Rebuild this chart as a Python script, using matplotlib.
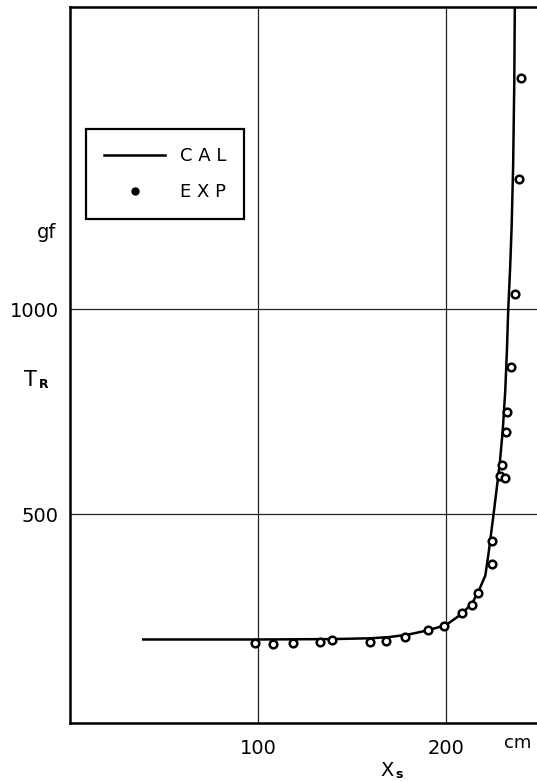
import numpy as np
import matplotlib
matplotlib.use("Agg")
import matplotlib.pyplot as plt
from matplotlib.lines import Line2D

# calculated curve (CAL)
cal_x = [39, 100, 140, 160, 170, 180, 190, 200, 208, 214, 218, 221, 222.6,
         224, 225.4, 227, 228.6, 230.2, 231.6, 232.5, 233.2, 234.2, 235,
         235.8, 236.4, 236.7]
cal_t = [194, 194, 195, 197, 200, 206, 216, 229, 255, 282, 318, 350, 400,
         450, 500, 560, 620, 700, 800, 900, 1000, 1100, 1200,
         1350, 1550, 1740]

# measured points (EXP)
exp_x = [98.6, 107.8, 118.5, 133.2, 139.4, 159.4, 168, 178.4, 190.4, 198.8,
         208.5, 213.8, 217.1, 224.8, 224.5, 228.9, 231.3, 229.8, 232.2, 232.5,
         234.6, 236.9, 239.0, 239.9]
exp_t = [185, 183, 185, 188, 192, 189, 191, 199, 216, 227,
         258, 277, 307, 377, 434, 593, 589, 620, 699, 749,
         859, 1038, 1318, 1565]

x_ticks = [100, 200]
y_ticks = [500, 1000]

fig = plt.figure(figsize=(5.37, 7.81), dpi=100)
ax = fig.add_axes([70 / 537, 58.3 / 781, 1 - 70 / 537, 715.7 / 781])

ax.plot(cal_x, cal_t, color="black", lw=1.8, zorder=3)
ax.plot(exp_x, exp_t, ls="none", marker="o", ms=5.5, mfc="white",
        mec="black", mew=1.8, zorder=4)

ax.set_xlim(0, 248.5)
ax.set_ylim(-9, 1737)
ax.set_xticks(x_ticks)
ax.set_yticks(y_ticks)
ax.tick_params(length=0, labelsize=14, colors="black")
ax.tick_params(axis="x", pad=12)
ax.tick_params(axis="y", pad=8)
ax.grid(True, color="#222222", lw=0.9)
ax.set_axisbelow(True)

for side in ["left", "bottom", "top"]:
    ax.spines[side].set_linewidth(1.8)
ax.spines["right"].set_visible(False)

# unit and axis labels
fig.text(518 / 537, 1 - 743 / 781, "cm", fontsize=13, ha="center", va="center")
fig.text(387 / 537, 1 - 771 / 781, "X", fontsize=14, ha="center", va="center")
fig.text(399 / 537, 1 - 775 / 781, "s", fontsize=9, fontweight="bold",
         ha="center", va="center")
fig.text(47 / 537, 1 - 232 / 781, "gf", fontsize=14, ha="center", va="center")
fig.text(30 / 537, 1 - 380 / 781, "T", fontsize=15, ha="center", va="center")
fig.text(44 / 537, 1 - 384 / 781, "R", fontsize=9, fontweight="bold",
         ha="center", va="center")

handles = [
    Line2D([], [], color="black", lw=1.8),
    Line2D([], [], ls="none", marker="o", ms=5, color="black"),
]
leg = ax.legend(handles, ["C A L", "E X P"], loc="upper left",
                bbox_to_anchor=(0.034, 0.8295), borderaxespad=0,
                fancybox=False, edgecolor="black", framealpha=1,
                fontsize=13, handlelength=3.4, handletextpad=0.8,
                borderpad=1.0, labelspacing=1.0)
leg.get_frame().set_linewidth(1.6)

fig.savefig("out.png", dpi=100)
